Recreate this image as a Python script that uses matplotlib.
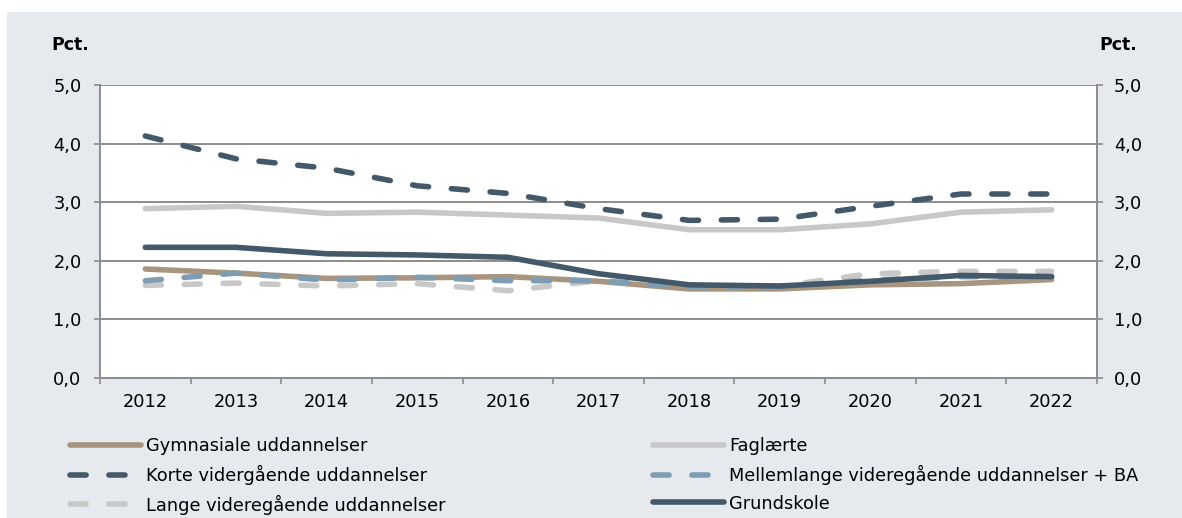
import matplotlib
matplotlib.use("Agg")
import matplotlib.pyplot as plt
from matplotlib.ticker import FixedLocator, FuncFormatter
from matplotlib.patches import Rectangle

plt.rcParams["font.family"] = ["DejaVu Sans"]

# data
years = ["2012", "2013", "2014", "2015", "2016", "2017", "2018", "2019", "2020", "2021", "2022"]

gymnasiale = [1.86, 1.79, 1.70, 1.71, 1.73, 1.65, 1.52, 1.52, 1.59, 1.61, 1.68]
faglaerte = [2.89, 2.93, 2.81, 2.83, 2.78, 2.73, 2.53, 2.53, 2.63, 2.83, 2.87]
korte = [4.13, 3.74, 3.58, 3.28, 3.15, 2.89, 2.69, 2.71, 2.93, 3.14, 3.14]
mellemlange = [1.66, 1.79, 1.67, 1.72, 1.66, 1.66, 1.55, 1.56, 1.67, 1.73, 1.73]
lange = [1.58, 1.62, 1.57, 1.61, 1.49, 1.66, 1.55, 1.57, 1.78, 1.82, 1.82]
grundskole = [2.23, 2.23, 2.12, 2.10, 2.06, 1.78, 1.59, 1.57, 1.65, 1.75, 1.73]

y_ticks = [0, 1, 2, 3, 4, 5]

TAN = "#a89580"
LIGHT = "#c8c8c8"
DARK = "#435868"
BLUE = "#7f9db2"
GRID = "#8c8c8c"
PANEL = "#e6eaee"

fig = plt.figure(figsize=(11.82, 5.18), dpi=100)
fig.patch.set_facecolor("white")
# grey panel behind the chart
fig.patches.append(Rectangle((7 / 1182, 0), 1 - 7 / 1182, 506 / 518,
                             transform=fig.transFigure, facecolor=PANEL,
                             edgecolor="none", zorder=-10))

ax = fig.add_axes([100 / 1182, 1 - 378 / 518, 997 / 1182, 293 / 518])
ax.set_facecolor("white")

x = list(range(len(years)))
lw = 4.0
dash = (2.9, 4.1)
lines = []
lines.append(ax.plot(x, gymnasiale, color=TAN, lw=lw, label="Gymnasiale uddannelser",
                     solid_capstyle="round", zorder=3)[0])
lines.append(ax.plot(x, faglaerte, color=LIGHT, lw=lw, label="Faglærte",
                     solid_capstyle="round", zorder=3)[0])
lines.append(ax.plot(x, korte, color=DARK, lw=lw, label="Korte vidergående uddannelser",
                     dashes=dash, dash_capstyle="round", zorder=4)[0])
lines.append(ax.plot(x, mellemlange, color=BLUE, lw=lw,
                     label="Mellemlange videregående uddannelser + BA",
                     dashes=dash, dash_capstyle="round", zorder=3)[0])
lines.append(ax.plot(x, lange, color=LIGHT, lw=lw, label="Lange videregående uddannelser",
                     dashes=dash, dash_capstyle="round", zorder=2)[0])
lines.append(ax.plot(x, grundskole, color=DARK, lw=lw, label="Grundskole",
                     solid_capstyle="round", zorder=5)[0])

fmt = FuncFormatter(lambda v, p: f"{v:.1f}".replace(".", ","))

ax.set_xlim(-0.5, len(years) - 0.5)
ax.set_ylim(0, 5)
ax.set_yticks(y_ticks)
ax.yaxis.set_major_formatter(fmt)
ax.grid(axis="y", color=GRID, lw=1.4, zorder=1)

ax.set_xticks(x)
ax.set_xticklabels(years)
ax.xaxis.set_minor_locator(FixedLocator([i - 0.5 for i in range(len(years) + 1)]))
ax.tick_params(axis="x", which="major", length=0, pad=10.5, labelsize=12.8)
ax.tick_params(axis="x", which="minor", length=4.3, width=1.2, color=GRID)
ax.tick_params(axis="y", length=4.3, width=1.2, color=GRID, labelsize=12.8, pad=9)

for side in ["left", "right", "bottom"]:
    ax.spines[side].set_color(GRID)
    ax.spines[side].set_linewidth(1.4)
ax.spines["top"].set_visible(False)

ax2 = ax.twinx()
ax2.set_ylim(0, 5)
ax2.set_yticks(y_ticks)
ax2.yaxis.set_major_formatter(fmt)
ax2.tick_params(axis="y", length=4.3, width=1.2, color=GRID, labelsize=12.8, pad=8)
for side in ["left", "right", "bottom", "top"]:
    ax2.spines[side].set_visible(False)

fig.text(51 / 1182, 1 - 45 / 518, "Pct.", fontsize=12.5, fontweight="bold", va="center", ha="left")
fig.text(1137 / 1182, 1 - 45 / 518, "Pct.", fontsize=12.5, fontweight="bold", va="center", ha="right")

leg_kw = dict(frameon=False, fontsize=12.8, handlelength=4.0, handletextpad=0.28,
              labelspacing=0.55, borderpad=0, borderaxespad=0, loc="upper left")
fig.legend([lines[0], lines[2], lines[4]], [l.get_label() for l in (lines[0], lines[2], lines[4])],
           bbox_to_anchor=(70 / 1182, 1 - 437 / 518), **leg_kw)
fig.legend([lines[1], lines[3], lines[5]], [l.get_label() for l in (lines[1], lines[3], lines[5])],
           bbox_to_anchor=(653 / 1182, 1 - 437 / 518), **leg_kw)

fig.savefig("out.png", dpi=100, facecolor=fig.get_facecolor())
